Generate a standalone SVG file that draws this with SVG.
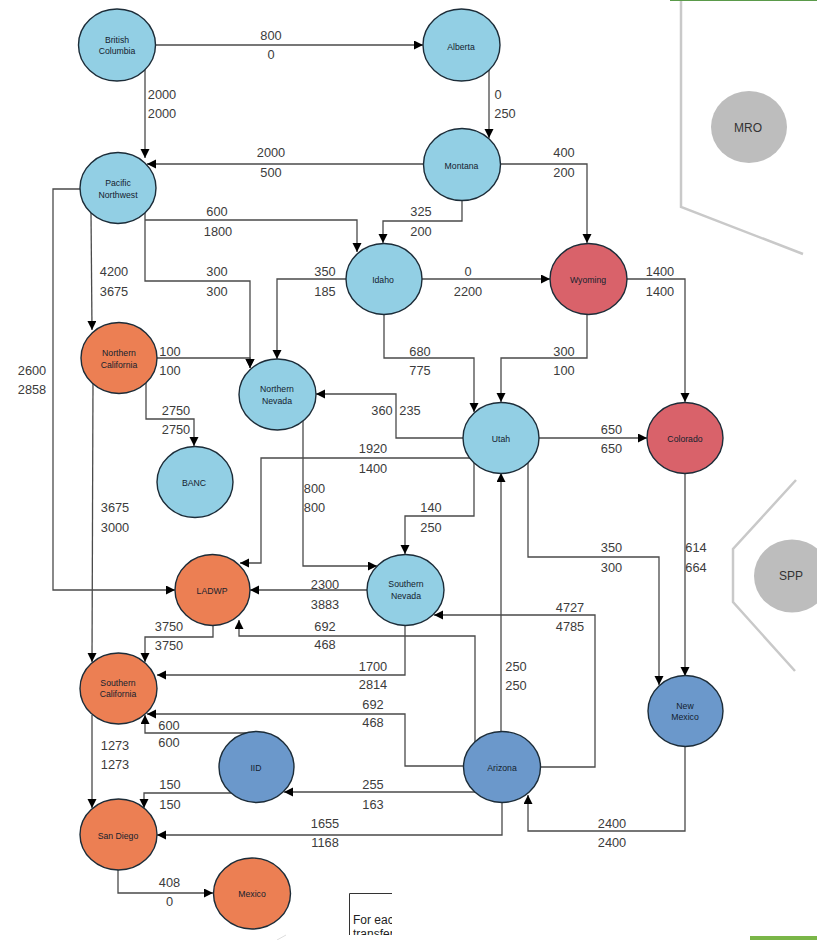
<svg xmlns="http://www.w3.org/2000/svg" width="817" height="940" viewBox="0 0 817 940">
<style>
text{font-family:"Liberation Sans",Arial,sans-serif}
.l{font-size:12.800px;fill:#3c3c3c;text-anchor:middle}
.n{font-size:8.700px;fill:#14222e;text-anchor:middle}
.c{fill:none;stroke:#4a4a4a;stroke-width:1.3;marker-end:url(#a)}
.p{fill:none;stroke:#c9c9c9;stroke-width:2.5}
.nd{stroke:#1c2c38;stroke-width:1.4}
.b{fill:#92cfe4}.o{fill:#ec7f53}.r{fill:#d9626a}.d{fill:#6b98cb}
.g{fill:#bdbdbd}
</style>
<defs>
<marker id="a" markerUnits="userSpaceOnUse" markerWidth="10" markerHeight="10" refX="9" refY="4.5" orient="auto"><path d="M0,0L9,4.5L0,9z" fill="#000"/></marker>
<clipPath id="box"><rect x="345" y="890" width="47" height="45"/></clipPath>
</defs>
<g id="background">
<path class="p" d="M681,0V207L803,254"/>
<path class="p" d="M796,480L733,549V602L795,671"/>
<path d="M670,0H817" stroke="#5a9a4a" stroke-width="2" fill="none"/>
<rect x="750" y="936" width="67" height="4" fill="#7ab648"/>
<path d="M277,940L286,935" stroke="#ddd" stroke-width="1" fill="none"/>
</g>
<g id="connectors">
<path class="c" d="M150,45H423"/>
<path class="c" d="M145,68V158"/>
<path class="c" d="M423,164H147"/>
<path class="c" d="M489,68V138"/>
<path class="c" d="M495,164H587V243"/>
<path class="c" d="M462,195V221H383V243"/>
<path class="c" d="M145,220H357V252"/>
<path class="c" d="M145,212V281H250V368"/>
<path class="c" d="M350,279H277V359"/>
<path class="c" d="M418,279H550"/>
<path class="c" d="M622,279H685V402"/>
<path class="c" d="M587,310V358H501V402"/>
<path class="c" d="M384,310V358H474V412"/>
<path class="c" d="M85,189H53V590H175"/>
<path class="c" d="M91,212L92,330"/>
<path class="c" d="M152,358H250V368"/>
<path class="c" d="M146,380V419H194V446"/>
<path class="c" d="M93,380L92,662"/>
<path class="c" d="M468,438H396V394H316"/>
<path class="c" d="M474,458H261V563H240"/>
<path class="c" d="M474,460V516H405V554"/>
<path class="c" d="M535,438H647"/>
<path class="c" d="M528,460V557H659V685"/>
<path class="c" d="M685,468V676"/>
<path class="c" d="M303,420V566H377"/>
<path class="c" d="M372,590H250"/>
<path class="c" d="M213,620V637H145V662"/>
<path class="c" d="M475,745V636H239V620"/>
<path class="c" d="M405,620V675H157"/>
<path class="c" d="M470,766H405V714H147"/>
<path class="c" d="M257,733H145V715"/>
<path class="c" d="M232,793H144V808"/>
<path class="c" d="M475,792H284"/>
<path class="c" d="M502,798V835H157"/>
<path class="c" d="M501,736V473"/>
<path class="c" d="M536,767H595V615H434"/>
<path class="c" d="M685,742V831H528V795"/>
<path class="c" d="M92,715V808"/>
<path class="c" d="M118,865V893H213"/>
</g>
<g id="n-british-columbia"><ellipse class="nd b" cx="117" cy="45" rx="38.5" ry="36"/><text class="n" x="117" y="43">British</text><text class="n" x="117" y="54">Columbia</text></g>
<g id="n-alberta"><ellipse class="nd b" cx="461.500" cy="45" rx="38.500" ry="36"/><text class="n" x="461" y="49.500">Alberta</text></g>
<g id="n-montana"><ellipse class="nd b" cx="462" cy="164.500" rx="38.500" ry="36"/><text class="n" x="461.500" y="168.500">Montana</text></g>
<g id="n-pacific-northwest"><ellipse class="nd b" cx="118" cy="188" rx="38" ry="35.500"/><text class="n" x="118" y="186">Pacific</text><text class="n" x="118" y="198">Northwest</text></g>
<g id="n-idaho"><ellipse class="nd b" cx="384" cy="279" rx="38" ry="35.500"/><text class="n" x="383" y="283">Idaho</text></g>
<g id="n-wyoming"><ellipse class="nd r" cx="588.500" cy="279" rx="38.500" ry="35.500"/><text class="n" x="588" y="283">Wyoming</text></g>
<g id="n-mro"><ellipse class="g" cx="749" cy="127" rx="38" ry="36"/><text class="n" style="font-size:12px;fill:#333" x="748" y="132">MRO</text></g>
<g id="n-northern-california"><ellipse class="nd o" cx="119" cy="358" rx="38" ry="35.500"/><text class="n" x="119" y="356">Northern</text><text class="n" x="119" y="368">California</text></g>
<g id="n-northern-nevada"><ellipse class="nd b" cx="277.500" cy="394.500" rx="38.500" ry="35.500"/><text class="n" x="277" y="392">Northern</text><text class="n" x="277" y="404">Nevada</text></g>
<g id="n-banc"><ellipse class="nd b" cx="195" cy="482" rx="38" ry="35.500"/><text class="n" x="194" y="486">BANC</text></g>
<g id="n-utah"><ellipse class="nd b" cx="501" cy="438" rx="38" ry="35.500"/><text class="n" x="501" y="441.500">Utah</text></g>
<g id="n-colorado"><ellipse class="nd r" cx="685" cy="438" rx="38" ry="35.500"/><text class="n" x="685" y="441.500">Colorado</text></g>
<g id="n-spp"><ellipse class="g" cx="792" cy="576" rx="38" ry="36.500"/><text class="n" style="font-size:12px;fill:#333" x="791" y="580">SPP</text></g>
<g id="n-ladwp"><ellipse class="nd o" cx="212.500" cy="590" rx="37.500" ry="35.500"/><text class="n" x="212" y="594">LADWP</text></g>
<g id="n-southern-nevada"><ellipse class="nd b" cx="405.500" cy="590" rx="38.500" ry="35.500"/><text class="n" x="406" y="587">Southern</text><text class="n" x="406" y="599">Nevada</text></g>
<g id="n-southern-california"><ellipse class="nd o" cx="118.500" cy="688.500" rx="38.500" ry="35.500"/><text class="n" x="118" y="686">Southern</text><text class="n" x="118" y="697">California</text></g>
<g id="n-iid"><ellipse class="nd d" cx="256.500" cy="767" rx="37.500" ry="35.500"/><text class="n" x="256" y="771">IID</text></g>
<g id="n-arizona"><ellipse class="nd d" cx="502" cy="767" rx="38.500" ry="35.500"/><text class="n" x="502" y="771">Arizona</text></g>
<g id="n-new-mexico"><ellipse class="nd d" cx="685.500" cy="711" rx="37.500" ry="35.500"/><text class="n" x="685" y="709">New</text><text class="n" x="685" y="720">Mexico</text></g>
<g id="n-san-diego"><ellipse class="nd o" cx="118.500" cy="834.500" rx="38.500" ry="35.500"/><text class="n" x="118" y="839">San Diego</text></g>
<g id="n-mexico"><ellipse class="nd o" cx="252" cy="893.500" rx="38.500" ry="35.500"/><text class="n" x="252" y="897">Mexico</text></g>
<g id="labels">
<text class="l" x="271" y="39.500">800</text><text class="l" x="271" y="58.500">0</text>
<text class="l" x="162" y="98.500">2000</text><text class="l" x="162" y="118">2000</text>
<text class="l" x="271" y="157">2000</text><text class="l" x="271" y="177">500</text>
<text class="l" x="217" y="216">600</text><text class="l" x="218" y="236">1800</text>
<text class="l" x="217" y="275.500">300</text><text class="l" x="217" y="296">300</text>
<text class="l" x="114" y="275.500">4200</text><text class="l" x="114" y="296">3675</text>
<text class="l" x="325" y="275.500">350</text><text class="l" x="325" y="296">185</text>
<text class="l" x="421" y="216">325</text><text class="l" x="421" y="236">200</text>
<text class="l" x="564" y="157">400</text><text class="l" x="564" y="177">200</text>
<text class="l" x="498" y="98.500">0</text><text class="l" x="505" y="118">250</text>
<text class="l" x="468" y="275.500">0</text><text class="l" x="468" y="296">2200</text>
<text class="l" x="660" y="275.500">1400</text><text class="l" x="660" y="296">1400</text>
<text class="l" x="170" y="355.500">100</text><text class="l" x="170" y="375">100</text>
<text class="l" x="32" y="374.500">2600</text><text class="l" x="32" y="394">2858</text>
<text class="l" x="176" y="414.500">2750</text><text class="l" x="176" y="434">2750</text>
<text class="l" x="382" y="414.500">360</text><text class="l" x="410" y="414.500">235</text>
<text class="l" x="373" y="453">1920</text><text class="l" x="373" y="472.500">1400</text>
<text class="l" x="314.500" y="492.500">800</text><text class="l" x="314.500" y="512">800</text>
<text class="l" x="115" y="512">3675</text><text class="l" x="115" y="531.500">3000</text>
<text class="l" x="420" y="355.500">680</text><text class="l" x="420" y="375">775</text>
<text class="l" x="564" y="355.500">300</text><text class="l" x="564" y="375">100</text>
<text class="l" x="611.500" y="433.500">650</text><text class="l" x="611.500" y="453">650</text>
<text class="l" x="431" y="512">140</text><text class="l" x="431" y="531.500">250</text>
<text class="l" x="611.500" y="552">350</text><text class="l" x="611.500" y="571.500">300</text>
<text class="l" x="696" y="552">614</text><text class="l" x="696" y="571.500">664</text>
<text class="l" x="325" y="588.500">2300</text><text class="l" x="325" y="608.500">3883</text>
<text class="l" x="169" y="630.500">3750</text><text class="l" x="169" y="650">3750</text>
<text class="l" x="325" y="630.500">692</text><text class="l" x="325" y="648.500">468</text>
<text class="l" x="570" y="611.500">4727</text><text class="l" x="570" y="630.500">4785</text>
<text class="l" x="373" y="670.500">1700</text><text class="l" x="373" y="688.500">2814</text>
<text class="l" x="373" y="709">692</text><text class="l" x="373" y="727">468</text>
<text class="l" x="516" y="670.500">250</text><text class="l" x="516" y="690">250</text>
<text class="l" x="169" y="729.500">600</text><text class="l" x="169" y="747">600</text>
<text class="l" x="115" y="749.500">1273</text><text class="l" x="115" y="769">1273</text>
<text class="l" x="170" y="789">150</text><text class="l" x="170" y="808.500">150</text>
<text class="l" x="373" y="789">255</text><text class="l" x="373" y="808.500">163</text>
<text class="l" x="325" y="827.500">1655</text><text class="l" x="325" y="847">1168</text>
<text class="l" x="612" y="827.500">2400</text><text class="l" x="612" y="847">2400</text>
<text class="l" x="169.500" y="886.500">408</text><text class="l" x="169.500" y="906">0</text>
</g>
<g id="note" clip-path="url(#box)">
<path d="M349.500,935V893.500H392" fill="none" stroke="#333" stroke-width="1"/>
<text x="353" y="924" style="font-size:12px;fill:#222">For each</text>
<text x="353" y="938" style="font-size:12px;fill:#222">transfer</text>
</g>
</svg>
